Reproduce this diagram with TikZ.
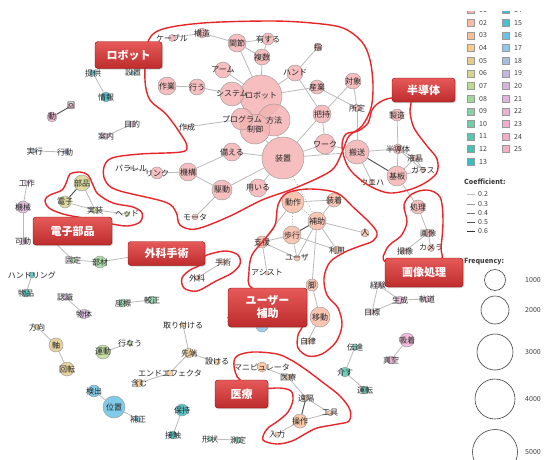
\documentclass[tikz,border=0pt]{standalone}
\usepackage{fontspec}
\setmainfont{Noto Sans CJK JP}
\usetikzlibrary{shadows}
\pgfdeclarelayer{bg}
\pgfdeclarelayer{txt}
\pgfdeclarelayer{fg}
\pgfsetlayers{bg,main,txt,fg}
\definecolor{c01}{HTML}{F5B3B3}
\definecolor{c02}{HTML}{F8BCA6}
\definecolor{c03}{HTML}{F9BF96}
\definecolor{c04}{HTML}{F9CB8C}
\definecolor{c05}{HTML}{E5CB8E}
\definecolor{c06}{HTML}{D6D690}
\definecolor{c07}{HTML}{BADB92}
\definecolor{c08}{HTML}{A0D89C}
\definecolor{c09}{HTML}{86D0A2}
\definecolor{c10}{HTML}{70CBA9}
\definecolor{c11}{HTML}{5AC5B0}
\definecolor{c12}{HTML}{46C0B6}
\definecolor{c13}{HTML}{3CBDBE}
\definecolor{c14}{HTML}{3EBBC9}
\definecolor{c15}{HTML}{4CBDD6}
\definecolor{c16}{HTML}{6AC3E4}
\definecolor{c17}{HTML}{8CC9EC}
\definecolor{c18}{HTML}{A9BDE0}
\definecolor{c19}{HTML}{C4B8E0}
\definecolor{c20}{HTML}{D5B5DF}
\definecolor{c21}{HTML}{E2B3DB}
\definecolor{c22}{HTML}{ECB1D6}
\definecolor{c23}{HTML}{F2AED1}
\definecolor{c24}{HTML}{F4ACC9}
\definecolor{c25}{HTML}{F3AFBF}
\definecolor{labtop}{HTML}{E65A5A}
\definecolor{labbot}{HTML}{BE2C2C}
\definecolor{outred}{HTML}{E8262A}
\newcommand\gnode[6]{%
  \node[vtx,minimum size=#4pt,fill=#5] (#1) at (#2,#3) {};
  \begin{pgfonlayer}{txt}\node[lbl] at (#2,#3) {#6};\end{pgfonlayer}}
\begin{document}
\begin{tikzpicture}[x=1pt,y=-1pt,
  vtx/.style={circle,draw=black!40,line width=0.45pt,inner sep=0pt,fill opacity=0.85},
  lbl/.style={inner sep=0pt,text=black!85,font=\fontsize{8}{9}\selectfont},
  edg/.style={draw=black!27,line width=0.8pt},
  edgd/.style={draw=black!70,line width=0.9pt},
  edgdot/.style={draw=black!35,line width=0.8pt,dotted},
  outl/.style={draw=outred,line width=1.4pt},
  lab/.style={rounded corners=3pt,draw=red!55!black,line width=0.4pt,top color=labtop,bottom color=labbot,
     text=white,font=\fontsize{11}{13}\selectfont\bfseries,align=center,inner sep=0pt,
     drop shadow={shadow xshift=1pt,shadow yshift=-1.2pt,opacity=0.35}},
  leg/.style={inner sep=0pt,text=black!75,font=\fontsize{7}{8}\selectfont},
  sq/.style={draw=black!40,line width=0.3pt,minimum size=7pt,inner sep=0pt}]
\useasboundingbox (0,0) rectangle (546,459);
\begin{pgfonlayer}{bg}
\fill[white] (0,0) rectangle (546,459);
\end{pgfonlayer}
% ---- robot cluster
\gnode{robot}{261}{96}{42}{c01}{ロボット}
\gnode{sochi}{283}{158}{42}{c01}{装置}
\gnode{hoho}{274}{120}{32}{c01}{方法}
\gnode{seigyo}{255}{129}{30}{c01}{制御}
\gnode{program}{242}{119}{22}{c01}{プログラム}
\gnode{system}{232}{94}{24}{c01}{システム}
\gnode{cable}{172}{38}{7}{c01}{ケーブル}
\gnode{kozo}{202}{33}{10}{c01}{構造}
\gnode{kansetsu}{237}{43}{18}{c01}{関節}
\gnode{yusuru}{268}{39}{12}{c01}{有する}
\gnode{fukusu}{262}{57}{16}{c01}{複数}
\gnode{yubi}{318}{47}{8}{c01}{指}
\gnode{arm}{223}{70}{16}{c01}{アーム}
\gnode{hand}{295}{73}{16}{c01}{ハンド}
\gnode{sagyo}{167}{86}{18}{c01}{作業}
\gnode{okonau}{197}{87}{16}{c01}{行う}
\gnode{sangyo}{317}{87}{14}{c01}{産業}
\gnode{taisho}{353}{81}{16}{c01}{対象}
\gnode{shotei}{357}{108}{7}{c01}{所定}
\gnode{sakusei}{187}{127}{4}{c01}{作成}
\gnode{haji}{322}{114}{18}{c01}{把持}
\gnode{work}{325}{144}{20}{c01}{ワーク}
\gnode{sonaeru}{232}{152}{18}{c01}{備える}
\gnode{kiko}{188}{172}{18}{c01}{機構}
\gnode{link}{157}{173}{12}{c01}{リンク}
\gnode{parallel}{131}{168}{3}{c01}{パラレル}
\gnode{kudo}{222}{190}{20}{c01}{駆動}
\gnode{mochiiru}{258}{188}{18}{c01}{用いる}
\gnode{motor}{195}{217}{6}{c01}{モータ}
% ---- semiconductor
\gnode{seizo}{397}{115}{12}{c01}{製造}
\gnode{hanso}{357}{152}{24}{c01}{搬送}
\gnode{handotai}{398}{149}{10}{c01}{半導体}
\gnode{ekisho}{415}{158}{6}{c01}{液晶}
\gnode{glass}{423}{170}{5}{c01}{ガラス}
\gnode{kiban}{397}{176}{20}{c01}{基板}
\gnode{ueha}{372}{182}{5}{c01}{ウエハ}
% ---- image processing
\gnode{shori}{418}{207}{14}{c01}{処理}
\gnode{gazo}{428}{233}{8}{c01}{画像}
\gnode{satsuzo}{405}{251}{5}{c01}{撮像}
\gnode{camera}{431}{248}{7}{c01}{カメラ}
% ---- user assistance
\gnode{dosa}{293}{202}{22}{c02}{動作}
\gnode{sochaku}{334}{200}{14}{c02}{装着}
\gnode{hojo}{317}{221}{18}{c02}{補助}
\gnode{hito}{365}{233}{8}{c02}{人}
\gnode{hoko}{292}{235}{18}{c02}{歩行}
\gnode{shien}{262}{242}{12}{c02}{支援}
\gnode{riyo}{337}{250}{8}{c02}{利用}
\gnode{user}{297}{258}{6}{c02}{ユーザ}
\gnode{assist}{267}{273}{4}{c02}{アシスト}
\gnode{ashi}{312}{285}{12}{c02}{脚}
\gnode{ido}{320}{317}{20}{c02}{移動}
\gnode{jiritsu}{308}{341}{6}{c02}{自律}
\gnode{shujutsu}{223}{262}{6}{c02}{手術}
\gnode{geka}{197}{278}{5}{c02}{外科}
% ---- electronics
\gnode{buhin}{82}{183}{16}{c06}{部品}
\gnode{denshi}{65}{202}{12}{c06}{電子}
\gnode{jisso}{95}{210}{6}{c06}{実装}
\gnode{head}{127}{214}{5}{c06}{ヘッド}
% ---- misc
\gnode{teikyo}{93}{73}{6}{c14}{提供}
\gnode{setchi}{133}{73}{4}{c14}{設置}
\gnode{joho}{106}{97}{10}{c14}{情報}
\gnode{kai}{71}{106}{6}{c24}{回}
\gnode{dou}{52}{117}{10}{c24}{動}
\gnode{mokuteki}{132}{124}{6}{c21}{目的}
\gnode{annai}{106}{136}{5}{c21}{案内}
\gnode{jikko}{35}{151}{4}{c18}{実行}
\gnode{kodo}{65}{152}{4}{c18}{行動}
\gnode{kosaku}{27}{183}{5}{c21}{工作}
\gnode{kikai}{23}{207}{12}{c21}{機械}
\gnode{kado}{23}{242}{5}{c21}{可動}
\gnode{kotei}{73}{260}{5}{c08}{固定}
\gnode{buzai}{100}{262}{12}{c08}{部材}
\gnode{handling}{32}{275}{6}{c12}{ハンドリング}
\gnode{buppin}{26}{293}{8}{c12}{物品}
\gnode{ninshiki}{65}{297}{6}{c20}{認識}
\gnode{buttai}{84}{314}{10}{c20}{物体}
\gnode{zahyo}{123}{303}{8}{c09}{座標}
\gnode{kosei}{152}{300}{8}{c09}{較正}
\gnode{hoko2}{37}{327}{5}{c05}{方向}
\gnode{jiku}{56}{345}{14}{c05}{軸}
\gnode{kaiten}{67}{369}{14}{c05}{回転}
\gnode{undo}{103}{352}{14}{c07}{運動}
\gnode{okonau2}{130}{343}{5}{c07}{行なう}
\gnode{kenshutsu}{94}{391}{12}{c16}{検出}
\gnode{ichi}{114}{407}{22}{c16}{位置}
\gnode{hosei}{138}{419}{5}{c16}{補正}
\gnode{toritsuke}{183}{325}{5}{c04}{取り付ける}
\gnode{sentan}{189}{353}{10}{c04}{先端}
\gnode{mokeru}{217}{362}{6}{c04}{設ける}
\gnode{endeff}{170}{373}{6}{c04}{エンドエフェクタ}
\gnode{fukumu}{139}{383}{8}{c04}{含む}
\gnode{hoji}{182}{410}{12}{c13}{保持}
\gnode{sesshoku}{173}{435}{8}{c13}{接触}
\gnode{keijo}{210}{439}{5}{c10}{形状}
\gnode{sokutei}{238}{440}{6}{c10}{測定}
\gnode{mani}{262}{367}{10}{c03}{マニピュレータ}
\gnode{iryo}{288}{377}{6}{c03}{医療}
\gnode{enkaku}{306}{398}{6}{c03}{遠隔}
\gnode{kogu}{330}{413}{5}{c03}{工具}
\gnode{sosa}{300}{421}{14}{c03}{操作}
\gnode{nyuryoku}{277}{434}{4}{c03}{入力}
\gnode{dentatsu}{355}{347}{6}{c11}{伝達}
\gnode{kaisu}{345}{372}{10}{c11}{介す}
\gnode{unten}{365}{390}{8}{c11}{運転}
\gnode{kyuchaku}{407}{340}{14}{c23}{吸着}
\gnode{shinku}{391}{360}{8}{c23}{真空}
\gnode{keiken}{378}{285}{5}{c22}{経験}
\gnode{mokuhyo}{372}{312}{5}{c22}{目標}
\gnode{seisei}{400}{300}{8}{c22}{生成}
\gnode{kido}{427}{299}{6}{c22}{軌道}
\gnode{gaikan}{235}{318}{4}{c17}{外観}
\gnode{bluenode}{262}{326}{12}{c17}{}
\coordinate (hid1) at (52,240);
\coordinate (hid2) at (136,256);
% ---- edges
\begin{pgfonlayer}{bg}
\foreach \a/\b in {cable/kozo,kozo/kansetsu,kansetsu/yusuru,kansetsu/fukusu,yusuru/fukusu,kansetsu/robot,
  fukusu/robot,yubi/hand,hand/robot,hand/haji,arm/robot,sagyo/okonau,okonau/system,system/robot,robot/sangyo,
  sangyo/shotei,haji/taisho,taisho/shotei,shotei/hanso,robot/program,robot/hoho,program/seigyo,program/sakusei,
  hoho/seigyo,hoho/sochi,seigyo/sochi,haji/work,haji/sochi,work/sochi,sochi/hanso,work/hanso,sochi/sonaeru,
  sonaeru/kiko,kiko/link,link/parallel,kiko/kudo,kudo/motor,kudo/sochi,mochiiru/sochi,
  seizo/handotai,hanso/handotai,hanso/ueha,handotai/ekisho,handotai/kiban,ekisho/glass,kiban/glass,
  kiban/ekisho,handotai/glass,kiban/shori,shori/gazo,gazo/satsuzo,gazo/camera,
  dosa/sochaku,sochaku/hojo,dosa/shien,hojo/hito,hojo/riyo,hojo/user,hoko/shien,hoko/user,hoko/riyo,
  shien/assist,shien/user,hojo/ashi,ashi/ido,ido/jiritsu,
  shujutsu/geka,buhin/jisso,denshi/jisso,jisso/head,kosaku/kikai,kikai/kado,kotei/buzai,kotei/hid1,
  buzai/hid2,handling/buppin,ninshiki/buttai,zahyo/kosei,hoko2/jiku,jiku/kaiten,undo/okonau2,
  kenshutsu/ichi,ichi/hosei,toritsuke/sentan,sentan/mokeru,sentan/endeff,endeff/fukumu,hoji/sesshoku,
  keijo/sokutei,mani/iryo,iryo/enkaku,enkaku/kogu,sosa/kogu,sosa/nyuryoku,dentatsu/kaisu,kaisu/unten,
  kyuchaku/shinku,keiken/mokuhyo,keiken/seisei,mokuhyo/seisei,seisei/kido,teikyo/joho,mokuteki/annai,
  jikko/kodo}
  \draw[edg] (\a) -- (\b);
\foreach \a/\b in {kai/dou,hanso/kiban,hojo/hoko,buhin/denshi,enkaku/sosa}
  \draw[edgd] (\a) -- (\b);
\foreach \a/\b in {sochi/hojo,dosa/hoko,dosa/hojo}
  \draw[edgdot] (\a) -- (\b);
\end{pgfonlayer}
% ---- outlines and labels
\begin{pgfonlayer}{fg}
\draw[outl] plot[smooth cycle,tension=0.55] coordinates {(160,30) (203,23) (270,21) (312,23) (343,28) (362,42)
  (370,60) (373,85) (371,108) (362,126) (349,136) (343,150) (334,168) (318,178) (290,190) (262,200) (228,217)
  (196,229) (180,225) (176,212) (165,202) (117,190) (105,180) (104,167) (112,158) (140,154) (181,152) (187,146)
  (180,133) (166,114) (150,100) (145,80) (147,45)};
\draw[outl] plot[smooth cycle,tension=0.55] coordinates {(392,98) (380,102) (372,110) (368,123) (358,131)
  (346,134) (342,145) (345,160) (352,172) (368,185) (390,193) (417,187) (436,174) (437,159) (427,146) (414,128)
  (410,112) (410,100)};
\draw[outl] plot[smooth cycle,tension=0.55] coordinates {(70,174) (80,172) (88,175) (93,185) (98,194) (113,203)
  (133,207) (142,213) (140,222) (127,226) (107,223) (83,218) (63,214) (49,208) (45,200) (50,195) (62,190) (67,181)};
\draw[outl] plot[smooth cycle,tension=0.55] coordinates {(205,256) (225,251) (238,255) (240,264) (232,273)
  (216,281) (197,291) (184,288) (182,278) (190,270) (200,265)};
\draw[outl] plot[smooth cycle,tension=0.55] coordinates {(278,205) (287,193) (310,189) (337,193) (353,207)
  (370,223) (377,233) (373,241) (360,246) (345,252) (330,262) (324,278) (327,295) (338,308) (342,325) (336,342)
  (322,354) (308,356) (298,348) (298,335) (303,322) (290,300) (252,288) (249,272) (252,255) (264,240) (275,225)};
\draw[outl] plot[smooth cycle,tension=0.55] coordinates {(237,356) (253,352) (277,354) (291,360) (305,369)
  (321,381) (340,396) (350,410) (349,421) (338,424) (317,428) (305,434) (292,441) (277,444) (263,440) (267,429)
  (278,421) (288,412) (293,400) (291,391) (280,388) (262,388) (240,380) (234,366)};
\draw[outl] plot[smooth cycle,tension=0.55] coordinates {(412,194) (427,190) (440,197) (443,220) (441,247)
  (438,262) (387,262) (386,250) (393,242) (401,236) (407,222) (404,205)};
\node[lab,minimum width=67pt,minimum height=27pt] (Lrobot) at (128.5,55) {ロボット};
\node[lab,minimum width=63pt,minimum height=24pt] (Lsemi) at (423.5,90) {半導体};
\node[lab,minimum width=79pt,minimum height=28pt] (Lelec) at (72.5,231) {電子部品};
\node[lab,minimum width=77pt,minimum height=24pt] (Lsurg) at (166.5,253.5) {外科手術};
\node[lab,minimum width=79pt,minimum height=39pt] (Luser) at (267.5,307.5) {ユーザー\\補助};
\node[lab,minimum width=53pt,minimum height=28pt] (Lmed) at (241.5,394) {医療};
\node[lab,minimum width=78pt,minimum height=29pt] (Limg) at (424,272.5) {画像処理};
\end{pgfonlayer}
% ---- legend
\begin{scope}
\clip (455,11.5) rectangle (546,459);
\foreach \i/\n in {0/01,1/02,2/03,3/04,4/05,5/06,6/07,7/08,8/09,9/10,10/11,11/12,12/13}{
  \node[sq,fill=c\n] at (471,{10.06+12.64*\i}) {};
  \node[leg,anchor=west] at (479,{10.06+12.64*\i}) {\n};}
\foreach \i/\n in {0/14,1/15,2/16,3/17,4/18,5/19,6/20,7/21,8/22,9/23,10/24,11/25}{
  \node[sq,fill=c\n] at (506,{10.06+12.64*\i}) {};
  \node[leg,anchor=west] at (514,{10.06+12.64*\i}) {\n};}
\end{scope}
\node[leg,anchor=west,font=\fontsize{7}{8}\selectfont\bfseries] at (464,182) {Coefficient:};
\foreach \v/\y/\g in {0.2/194/25,0.3/204/40,0.4/213/55,0.5/222/68,0.6/231/80}{
  \draw[black!\g,line width=1pt] (467,\y) -- (475,\y);
  \node[leg,anchor=west] at (478,\y) {\v};}
\node[leg,anchor=west,font=\fontsize{7}{8}\selectfont\bfseries] at (464,262) {Frequency:};
\foreach \y/\r/\t in {280/10.5/1000,310/14/2000,352/18/3000,399/20/4000,452/22.5/5000}{
  \draw[black!75,line width=0.6pt] (495,\y) circle[radius=\r];
  \node[leg] at (533,\y) {\t};}
\end{tikzpicture}
\end{document}
